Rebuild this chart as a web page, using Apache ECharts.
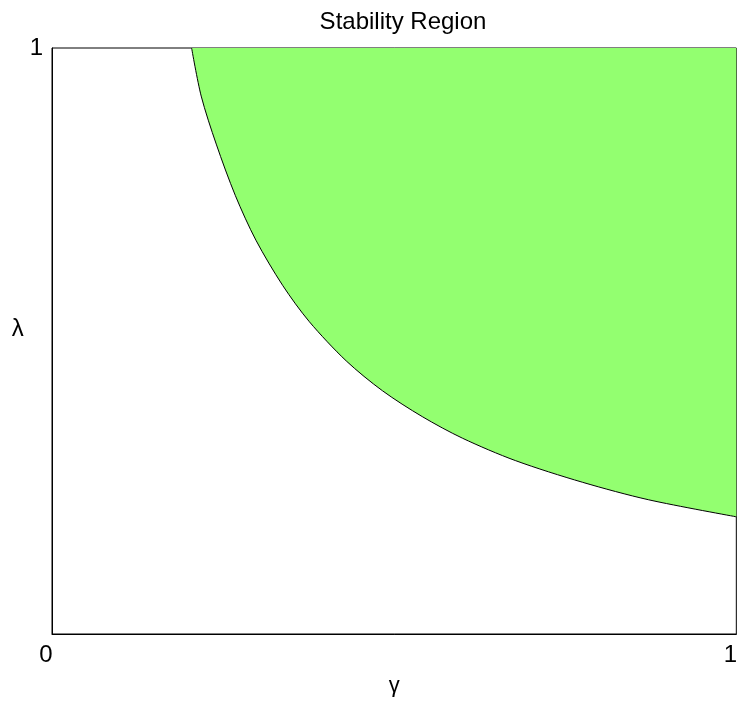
<!DOCTYPE html>
<html>
<head>
<meta charset="utf-8">
<script src="https://cdn.jsdelivr.net/npm/echarts@6/dist/echarts.min.js"></script>
<style>
html,body{margin:0;padding:0;background:#fff;}
#main{width:740px;height:702px;}
</style>
</head>
<body>
<div id="main"></div>
<script>
// Boundary of the stability region
var gammaValues  = [0.204, 0.218, 0.240, 0.268, 0.298, 0.337, 0.376, 0.430, 0.483, 0.541, 0.600, 0.677, 0.775, 0.872, 1.000];
var lambdaValues = [1.000, 0.918, 0.836, 0.748, 0.672, 0.595, 0.533, 0.466, 0.415, 0.371, 0.334, 0.296, 0.259, 0.229, 0.200];
var xTickLabels = ['0', '1'];
var yTickLabels = ['0', '1'];

var pts = gammaValues.map(function (g, i) { return [g, lambdaValues[i]]; });
var font = 'Liberation Sans, Arial, sans-serif';

var chart = echarts.init(document.getElementById('main'), null, { renderer: 'canvas' });
chart.setOption({
  backgroundColor: '#ffffff',
  animation: false,
  title: {
    text: 'Stability Region',
    left: 398, top: 5, textAlign: 'center',
    textStyle: { fontFamily: font, fontSize: 24, fontWeight: 'normal', color: '#000' }
  },
  grid: {
    left: 52, right: 2, top: 48, bottom: 64,
    show: true, borderColor: '#000', borderWidth: 1, backgroundColor: 'transparent'
  },
  xAxis: {
    type: 'value', min: 0, max: 1, interval: 1,
    name: 'γ', nameLocation: 'middle', nameGap: 41,
    nameTextStyle: { fontFamily: font, fontSize: 22, color: '#000' },
    axisLine: { show: true, lineStyle: { color: '#000', width: 1 } },
    axisTick: { show: false },
    splitLine: { show: false },
    axisLabel: {
      margin: 9, fontFamily: font, fontSize: 24, color: '#000',
      formatter: function (v) { return xTickLabels[Math.round(v)]; },
      padding: [0, 12, 0, 0]
    }
  },
  yAxis: {
    type: 'value', min: 0, max: 1, interval: 1,
    name: 'λ', nameLocation: 'middle', nameGap: 18, nameRotate: 0,
    nameTextStyle: { fontFamily: font, fontSize: 24, color: '#000', verticalAlign: 'bottom' },
    axisLine: { show: true, lineStyle: { color: '#000', width: 1 } },
    axisTick: { show: false },
    splitLine: { show: false },
    axisLabel: {
      showMinLabel: false, margin: 9, fontFamily: font, fontSize: 24, color: '#000',
      formatter: function (v) { return yTickLabels[Math.round(v)]; }
    }
  },
  series: [{
    type: 'line',
    data: pts,
    smooth: 0.3,
    showSymbol: false,
    symbol: 'none',
    lineStyle: { color: '#000', width: 1 },
    areaStyle: { origin: 'end', color: '#93ff70', opacity: 1 },
    z: 1
  }]
});
</script>
</body>
</html>
